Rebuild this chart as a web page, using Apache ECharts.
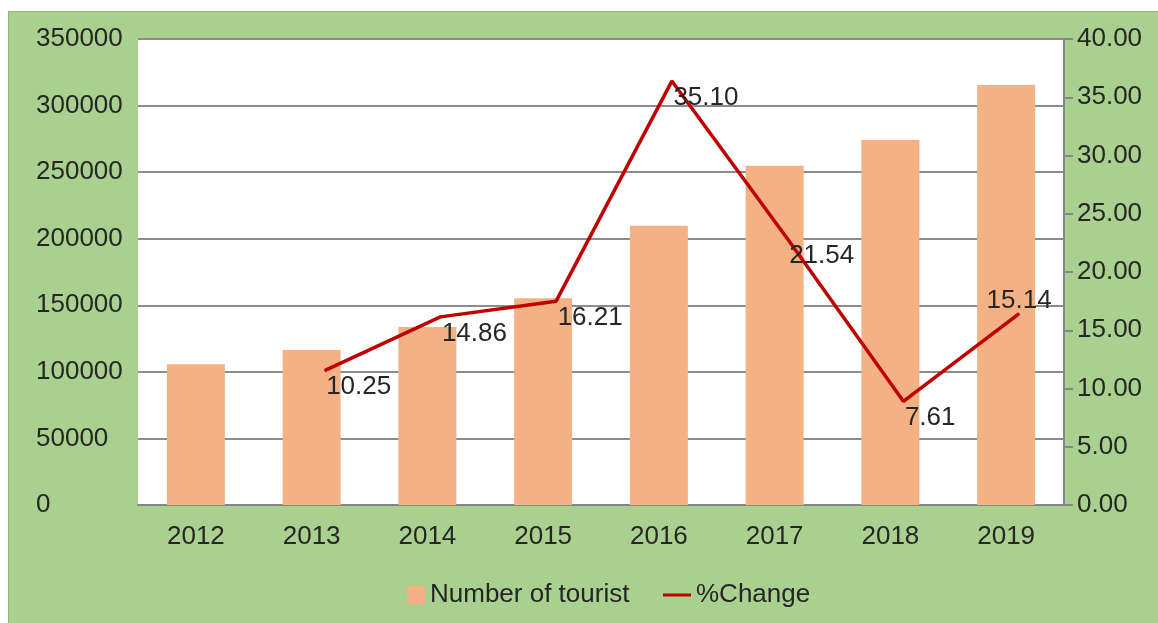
<!DOCTYPE html>
<html>
<head>
<meta charset="utf-8">
<script src="https://cdn.jsdelivr.net/npm/echarts@6/dist/echarts.min.js"></script>
<style>
    html, body { margin: 0; padding: 0; background: #ffffff; }
    #main {
        position: absolute;
        left: 8px;
        top: 11px;
        width: 1150px;
        height: 612px;
        border-left: 1px solid #8fb874;
        border-top: 1px solid #8fb874;
    }
</style>
</head>
<body>
<div id="main"></div>
<script>
// chart data
const years = ['2012', '2013', '2014', '2015', '2016', '2017', '2018', '2019']
const tourists = [105700, 116400, 133600, 155200, 209800, 254800, 274100, 315400]
const pctChange = ['-', 10.25, 14.86, 16.21, 35.10, 21.54, 7.61, 15.14]

const textColor = '#262626'
const fontFamily = 'Liberation Sans, Arial, sans-serif'
const lineColor = '#c00000'

const chart = echarts.init(document.getElementById('main'))

chart.setOption({
    backgroundColor: '#a9d08e',
    animation: false,
    textStyle: { fontFamily: fontFamily },
    grid: [
        // main plot area
        { left: 129, top: 27, width: 926, height: 466, show: true, backgroundColor: '#ffffff', borderWidth: 0 },
        // the line sits a bit right / up from the bars in the original
        { left: 142, top: 12, width: 926, height: 466, show: false },
    ],
    legend: [
        {
            data: [{ name: 'Number of tourist', icon: 'rect' }],
            left: 393,
            top: 565,
            itemWidth: 18,
            itemHeight: 18,
            selectedMode: false,
            textStyle: { fontSize: 26, color: textColor, fontFamily: fontFamily },
        },
        {
            data: [{ name: '%Change', icon: 'rect', itemStyle: { color: lineColor } }],
            left: 649,
            top: 565,
            itemWidth: 28,
            itemHeight: 3,
            selectedMode: false,
            textStyle: { fontSize: 26, color: textColor, fontFamily: fontFamily },
        },
    ],
    xAxis: [
        {
            type: 'category',
            gridIndex: 0,
            data: years,
            axisLine: { show: true, lineStyle: { color: '#868686', width: 2 } },
            axisTick: { show: false },
            axisLabel: { fontSize: 26, color: textColor, margin: 19 },
        },
        {
            type: 'category',
            gridIndex: 1,
            data: years,
            show: false,
        },
    ],
    yAxis: [
        {
            type: 'value',
            gridIndex: 0,
            min: 0,
            max: 350000,
            interval: 50000,
            axisLine: { show: false },
            axisTick: { show: false },
            splitLine: { lineStyle: { color: '#8c8c8c', width: 2 } },
            axisLabel: {
                fontSize: 26,
                color: textColor,
                align: 'left',
                margin: 102,
                formatter: v => String(v),
            },
        },
        {
            type: 'value',
            gridIndex: 0,
            position: 'right',
            min: 0,
            max: 40,
            interval: 5,
            axisLine: { show: true, lineStyle: { color: '#868686', width: 2 } },
            axisTick: { show: true, length: 9, lineStyle: { color: '#868686', width: 2 } },
            splitLine: { show: false },
            axisLabel: {
                fontSize: 26,
                color: textColor,
                margin: 13,
                formatter: v => v.toFixed(2),
            },
        },
        {
            type: 'value',
            gridIndex: 1,
            min: 0,
            max: 40,
            show: false,
        },
    ],
    series: [
        {
            name: 'Number of tourist',
            type: 'bar',
            xAxisIndex: 0,
            yAxisIndex: 0,
            data: tourists,
            barWidth: 58,
            itemStyle: { color: '#f4b183' },
        },
        {
            name: '%Change',
            type: 'line',
            xAxisIndex: 1,
            yAxisIndex: 2,
            symbol: 'circle',
            symbolSize: 1,
            showSymbol: true,
            itemStyle: { color: lineColor },
            lineStyle: { color: lineColor, width: 3.5 },
            data: pctChange.map((v, i) =>
                i === pctChange.length - 1
                    ? { value: v, label: { position: [0.5, -12], align: 'center' } }
                    : v
            ),
            label: {
                show: true,
                position: [2, 17],
                align: 'left',
                verticalAlign: 'middle',
                fontSize: 26,
                color: textColor,
                formatter: p => p.value.toFixed(2),
            },
        },
    ],
})
</script>
</body>
</html>
